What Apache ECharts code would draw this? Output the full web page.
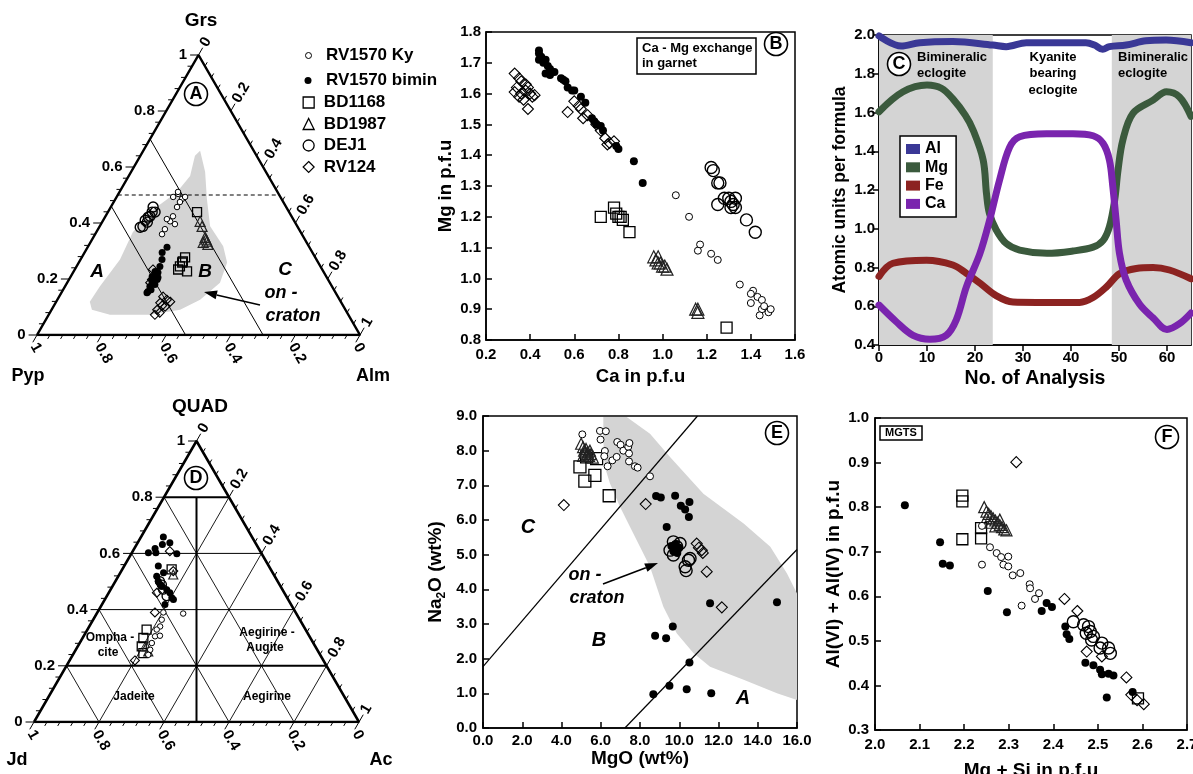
<!DOCTYPE html>
<html><head><meta charset="utf-8">
<script src="https://cdn.jsdelivr.net/npm/echarts@6.0.0/dist/echarts.min.js"></script>
<style>html,body{margin:0;padding:0;background:#fff}#c{width:1193px;height:774px}</style>
</head><body><div id="c"></div>
<script>
// ---------------- DATA ----------------
// Panel A: garnet ternary, [Grs, Alm] fractions (Pyp = 1 - Grs - Alm)
const A_Ky = [[0.504,0.185],[0.486,0.206],[0.475,0.205],[0.457,0.205],[0.493,0.212],[0.493,0.175],[0.511,0.181],[0.424,0.209],[0.406,0.209],[0.396,0.229],[0.378,0.207],[0.360,0.207],[0.414,0.195]];
const A_Bimin = [[0.313,0.246],[0.295,0.240],[0.270,0.252],[0.245,0.258],[0.223,0.263],[0.198,0.273],[0.187,0.266],[0.173,0.263],[0.155,0.266],[0.151,0.265],[0.209,0.252],[0.227,0.252],[0.180,0.275],[0.205,0.272],[0.162,0.272],[0.215,0.262],[0.192,0.260]];
const A_BD1168 = [[0.439,0.276],[0.277,0.320],[0.259,0.320],[0.245,0.320],[0.234,0.320],[0.227,0.351],[0.263,0.320]];
const A_BD1987 = [[0.406,0.302],[0.388,0.317],[0.349,0.346],[0.335,0.359],[0.324,0.367],[0.331,0.349],[0.342,0.352]];
const A_DEJ1 = [[0.457,0.131],[0.439,0.137],[0.421,0.134],[0.403,0.140],[0.388,0.134],[0.385,0.127],[0.424,0.138],[0.439,0.146],[0.410,0.130]];
const A_RV124 = [[0.234,0.242],[0.198,0.257],[0.187,0.257],[0.137,0.322],[0.126,0.339],[0.115,0.324],[0.090,0.327],[0.072,0.329],[0.101,0.346],[0.119,0.353],[0.105,0.335],[0.080,0.340]];
const A_onCraton = [[0.658,0.176],[0.583,0.229],[0.486,0.283],[0.388,0.342],[0.317,0.418],[0.259,0.459],[0.187,0.473],[0.126,0.442],[0.090,0.398],[0.072,0.314],[0.072,0.190],[0.090,0.125],[0.119,0.104],[0.173,0.108],[0.270,0.122],[0.367,0.113],[0.439,0.130],[0.511,0.178],[0.568,0.190],[0.640,0.169]];
const A_PYP_BOUNDS = [0.30, 0.54];   // Pyp = const boundaries (A/B, B/C)
const A_GRS_DASHED = 0.5;

// Panel B: [Ca, Mg] p.f.u
const B_Ky = [[1.06,1.27],[1.12,1.20],[1.17,1.11],[1.16,1.09],[1.22,1.08],[1.25,1.06],[1.35,0.98],[1.41,0.96],[1.40,0.95],[1.40,0.92],[1.43,0.94],[1.45,0.93],[1.45,0.90],[1.44,0.88],[1.48,0.89],[1.49,0.90],[1.46,0.91]];
const B_Bimin = [[0.44,1.74],[0.44,1.73],[0.45,1.72],[0.44,1.71],[0.46,1.70],[0.47,1.71],[0.48,1.69],[0.49,1.68],[0.47,1.665],[0.49,1.66],[0.51,1.67],[0.54,1.65],[0.55,1.645],[0.56,1.64],[0.57,1.62],[0.59,1.61],[0.60,1.61],[0.63,1.59],[0.65,1.57],[0.68,1.52],[0.69,1.51],[0.70,1.50],[0.72,1.495],[0.73,1.48],[0.79,1.43],[0.80,1.42],[0.87,1.38],[0.91,1.31]];
const B_BD1168 = [[0.72,1.20],[0.78,1.23],[0.79,1.21],[0.80,1.20],[0.81,1.20],[0.82,1.19],[0.85,1.15],[1.29,0.84]];
const B_BD1987 = [[0.96,1.07],[0.97,1.06],[0.98,1.07],[0.99,1.05],[1.00,1.04],[1.01,1.04],[1.02,1.03],[0.98,1.05],[1.15,0.90],[1.16,0.90],[1.16,0.89]];
const B_DEJ1 = [[1.22,1.36],[1.23,1.35],[1.25,1.31],[1.26,1.31],[1.25,1.24],[1.28,1.26],[1.30,1.26],[1.31,1.25],[1.32,1.24],[1.33,1.23],[1.31,1.23],[1.38,1.19],[1.42,1.15],[1.33,1.26]];
const B_RV124 = [[0.33,1.665],[0.35,1.65],[0.36,1.64],[0.34,1.62],[0.33,1.605],[0.36,1.60],[0.38,1.61],[0.39,1.62],[0.40,1.60],[0.42,1.595],[0.37,1.58],[0.35,1.59],[0.39,1.55],[0.41,1.59],[0.38,1.63],[0.60,1.575],[0.57,1.54],[0.62,1.56],[0.63,1.55],[0.64,1.52],[0.66,1.53],[0.70,1.50],[0.74,1.455],[0.76,1.44],[0.78,1.445],[0.75,1.435],[0.72,1.48]];

// Panel C: [No. of analysis, a.p.f.u]
const C_Al = [[0,1.995],[4.6,1.943],[8.5,1.96],[15.4,1.966],[23.7,1.948],[26.5,1.94],[30.7,1.96],[36.2,1.96],[43.1,1.96],[44.9,1.948],[46.6,1.926],[48,1.94],[51.5,1.948],[55.6,1.97],[59.8,1.974],[65,1.96]];
const C_Mg = [[0,1.604],[5,1.707],[10,1.742],[13,1.725],[15.4,1.67],[18,1.585],[19.6,1.51],[21.7,1.355],[22.4,1.18],[23,1.08],[24.4,0.995],[26.5,0.924],[29.3,0.89],[35,0.873],[40.4,0.885],[44.6,0.905],[46.7,0.94],[48,1.01],[49.1,1.148],[49.8,1.303],[50.8,1.458],[52.9,1.596],[57.1,1.664],[59.9,1.707],[62.6,1.68],[65,1.58]];
const C_Fe = [[0,0.754],[2.9,0.822],[9.9,0.838],[15.4,0.813],[18.2,0.77],[21,0.72],[24.4,0.655],[27.9,0.622],[32.8,0.62],[41.8,0.62],[44.6,0.645],[47.4,0.70],[50.1,0.768],[53.6,0.795],[57.1,0.80],[60.5,0.787],[65,0.742]];
const C_Ca = [[0,0.606],[3.6,0.52],[7.1,0.45],[10.6,0.43],[14,0.45],[16.1,0.53],[18.2,0.70],[21,0.87],[23,1.04],[25.1,1.25],[27.2,1.42],[29.3,1.475],[34.9,1.49],[40.4,1.49],[44.6,1.48],[46.7,1.44],[48,1.355],[48.7,1.22],[49.4,1.045],[50.1,0.873],[51.5,0.735],[54.3,0.61],[57.1,0.54],[60,0.48],[62.6,0.51],[65,0.565]];
const C_BANDS = [[0,23.7],[48.5,65]];
const C_X_TICKS = [0,10,20,30,40,50,60];

// Panel D: clinopyroxene ternary, [QUAD, Ac] fractions (Jd = 1 - QUAD - Ac)
const D_Ky = [[0.386,0.266],[0.390,0.203],[0.364,0.211],[0.340,0.218],[0.329,0.213],[0.305,0.220],[0.281,0.222],[0.257,0.229],[0.239,0.232],[0.307,0.234]];
const D_Bimin = [[0.658,0.069],[0.632,0.079],[0.617,0.064],[0.602,0.051],[0.602,0.074],[0.599,0.140],[0.638,0.099],[0.555,0.105],[0.531,0.133],[0.519,0.118],[0.501,0.132],[0.489,0.144],[0.471,0.173],[0.460,0.188],[0.442,0.203],[0.436,0.211],[0.418,0.194],[0.483,0.152]];
const D_BD1168 = [[0.329,0.182],[0.299,0.187],[0.269,0.197],[0.245,0.214],[0.543,0.152]];
const D_BD1987 = [[0.269,0.212],[0.251,0.226],[0.525,0.166]];
const D_DEJ1 = [[0.501,0.137],[0.489,0.149],[0.471,0.162],[0.448,0.184]];
const D_RV124 = [[0.608,0.114],[0.390,0.177],[0.219,0.201],[0.460,0.148],[0.537,0.160]];
const D_QUAD_LEVELS = [0.2,0.4,0.6,0.8];
const D_QUAD_BOLD = [0.2,0.8];
const D_DIAG_LEVELS = [0.2,0.4,0.6,0.8];

// Panel E: [MgO wt%, Na2O wt%]
const E_Ky = [[5.06,8.47],[5.96,8.57],[6.26,8.56],[5.99,8.32],[6.21,7.99],[6.18,7.84],[6.35,7.55],[6.59,7.72],[6.81,7.82],[6.84,8.25],[7.01,8.17],[7.15,8.0],[7.40,8.11],[7.46,8.22],[7.44,7.92],[7.44,7.69],[7.74,7.55],[7.88,7.51],[8.51,7.26]];
const E_Bimin = [[8.82,6.69],[9.06,6.65],[9.79,6.70],[10.08,6.41],[10.30,6.30],[10.52,6.52],[10.49,6.09],[9.36,5.80],[11.57,3.60],[14.98,3.63],[9.67,2.93],[8.77,2.66],[9.33,2.59],[10.52,1.89],[9.50,1.22],[8.68,0.97],[10.38,1.12],[11.63,1.00],[9.6,5.25],[9.8,5.3],[10.0,5.2],[9.7,5.1],[9.9,5.05]];
const E_BD1168 = [[4.94,7.53],[5.19,7.12],[5.70,7.29],[6.43,6.70],[5.79,7.77],[5.28,7.82]];
const E_BD1987 = [[5.0,8.2],[5.1,8.1],[5.15,8.0],[5.2,7.95],[5.3,7.9],[5.4,7.85],[5.25,8.05],[5.35,7.95],[5.5,7.9],[5.6,7.8],[5.1,7.85],[5.45,8.0]];
const E_DEJ1 = [[9.70,5.37],[9.87,5.23],[9.53,5.13],[9.70,4.99],[10.04,5.32],[10.47,4.84],[10.30,4.65],[10.35,4.54],[10.55,4.89]];
const E_RV124 = [[4.12,6.43],[8.29,6.46],[10.89,5.32],[11.15,5.13],[11.40,4.51],[12.17,3.48],[11.0,5.2],[11.2,5.05]];
const E_onCraton = [[6.13,8.97],[7.32,8.97],[8.51,8.49],[9.53,7.82],[11.23,6.76],[13.28,5.90],[14.64,5.23],[15.49,4.46],[16,3.88],[16,0.81],[14.98,1.0],[13.28,1.39],[11.57,1.77],[10.72,2.16],[9.87,2.73],[9.19,3.5],[8.51,4.65],[7.66,5.61],[6.98,6.38],[6.47,7.05],[6.21,7.53],[6.13,8.3]];
const E_lineBC = [[0,1.77],[10.93,9.0]];
const E_lineAB = [[7.23,0],[16,5.15]];

// Panel F: [Mg + Si, Al(VI)+Al(IV)] p.f.u
const F_Ky = [[2.24,0.758],[2.24,0.671],[2.258,0.71],[2.273,0.697],[2.283,0.688],[2.288,0.671],[2.299,0.689],[2.299,0.667],[2.309,0.647],[2.326,0.652],[2.329,0.579],[2.347,0.627],[2.348,0.618],[2.359,0.594],[2.368,0.607]];
const F_Bimin = [[2.067,0.804],[2.146,0.721],[2.152,0.673],[2.168,0.669],[2.253,0.612],[2.296,0.564],[2.374,0.567],[2.385,0.585],[2.397,0.576],[2.427,0.532],[2.43,0.515],[2.436,0.504],[2.472,0.451],[2.49,0.445],[2.505,0.435],[2.509,0.425],[2.524,0.426],[2.535,0.422],[2.52,0.373],[2.578,0.385]];
const F_BD1168 = [[2.196,0.826],[2.196,0.813],[2.196,0.728],[2.238,0.753],[2.238,0.73],[2.59,0.371]];
const F_BD1987 = [[2.245,0.80],[2.25,0.79],[2.255,0.785],[2.26,0.78],[2.265,0.775],[2.27,0.77],[2.275,0.765],[2.28,0.76],[2.285,0.755],[2.29,0.75],[2.295,0.748],[2.26,0.765],[2.27,0.757],[2.25,0.775],[2.28,0.772]];
const F_DEJ1 = [[2.445,0.543],[2.468,0.536],[2.479,0.532],[2.483,0.521],[2.49,0.51],[2.486,0.502],[2.509,0.495],[2.524,0.484],[2.528,0.472],[2.505,0.484],[2.474,0.517]];
const F_RV124 = [[2.317,0.901],[2.425,0.594],[2.454,0.567],[2.475,0.476],[2.509,0.465],[2.564,0.418],[2.575,0.379],[2.588,0.367],[2.603,0.358]];

const TERN_TICK_LABELS = ['0','0.2','0.4','0.6','0.8','1'];
const NAMES = {Ky:'RV1570 Ky', Bimin:'RV1570 bimin', BD1168:'BD1168', BD1987:'BD1987', DEJ1:'DEJ1', RV124:'RV124'};

// ---------------- HELPERS ----------------
const FF = '"Liberation Sans", Arial, Helvetica, sans-serif';
const H = Math.sqrt(3) / 2;
const tp = (top, right) => [right + top / 2, top * H]; // ternary -> cartesian data units
const CLEAR = 'rgba(0,0,0,0)';
const STY = {
  Ky:{symbol:'circle', color:'#fff', border:'#000', bw:1},
  Bimin:{symbol:'circle', color:'#000', border:'#000', bw:0},
  BD1168:{symbol:'rect', color:CLEAR, border:'#000', bw:1.3},
  BD1987:{symbol:'triangle', color:CLEAR, border:'#222', bw:1.2},
  DEJ1:{symbol:'circle', color:CLEAR, border:'#000', bw:1.4},
  RV124:{symbol:'diamond', color:CLEAR, border:'#000', bw:1.1}
};
function scat(key, data, gi, size) {
  const s = STY[key];
  return {type:'scatter', name:NAMES[key], xAxisIndex:gi, yAxisIndex:gi, data, symbol:s.symbol, symbolSize:size,
    itemStyle:{color:s.color, borderColor:s.border, borderWidth:s.bw, opacity:1}, z:5, silent:true};
}
function addGroups(series, gi, sets, sizes) {
  ['RV124','BD1168','BD1987','DEJ1','Ky','Bimin'].forEach(k => series.push(scat(k, sets[k], gi, sizes[k])));
}
function lineS(gi, data, width, type) {
  return {type:'line', xAxisIndex:gi, yAxisIndex:gi, data, symbol:'none', silent:true, z:3,
    lineStyle:{color:'#000', width, type:type||'solid'}, itemStyle:{color:'#000'}};
}
function polyS(gi, pts, color) {
  return {type:'custom', xAxisIndex:gi, yAxisIndex:gi, data:[pts[0]], silent:true, z:1, clip:true,
    renderItem:(p, api) => ({type:'polygon', shape:{points:pts.map(q => api.coord(q))}, style:{fill:color}})};
}
function ternAxis(gi) {
  const items = [];
  const N = 25;
  for (let i = 0; i <= N; i++) {
    const v = i / N, major = i % 5 === 0;
    const len = major ? 0.026 : 0.014;
    const lab = major ? TERN_TICK_LABELS[i / 5] : null;
    items.push({p:tp(v,0), d:[-1,0], len, lab, side:'L'});
    items.push({p:tp(1-v,v), d:[0.5,H], len, lab, side:'R'});
    items.push({p:tp(0,1-v), d:[-0.5,-H], len, lab, side:'B'});
  }
  return {type:'custom', xAxisIndex:gi, yAxisIndex:gi, data:items.map(it => it.p), silent:true, clip:false, z:4,
    renderItem(params, api) {
      const it = items[params.dataIndex];
      const a = api.coord(it.p), b = api.coord([it.p[0]+it.d[0]*it.len, it.p[1]+it.d[1]*it.len]);
      const ch = [{type:'line', shape:{x1:a[0],y1:a[1],x2:b[0],y2:b[1]}, style:{stroke:'#000', lineWidth:1}}];
      if (it.lab !== null) {
        let t;
        if (it.side === 'L') t = {x:b[0]-3, y:b[1], r:0};
        else if (it.side === 'R') t = {x:b[0]+1, y:b[1]-2, r:Math.PI/3};
        else t = {x:b[0]+1, y:b[1]+2, r:-Math.PI/3};
        const al = it.side === 'L' ? 'right' : 'left';
        ch.push({type:'text', x:t.x, y:t.y, rotation:t.r,
          style:{text:it.lab, fill:'#000', font:'bold 15px ' + FF, align:al, verticalAlign:'middle', textAlign:al, textVerticalAlign:'middle'}});
      }
      return {type:'group', children:ch};
    }};
}
function cartAxis(gi, o, isY) {
  const ax = {
    gridIndex:gi, type:'value', min:o.min, max:o.max, interval:o.interval,
    name:o.name, nameLocation:'middle', nameGap:o.nameGap, nameRotate:isY ? 90 : 0,
    nameTextStyle:{color:'#000', fontSize:o.nameSize || 19, fontWeight:'bold', fontFamily:FF},
    axisLine:{show:true, onZero:false, lineStyle:{color:'#000', width:1.5}},
    axisTick:{show:true, inside:o.inside, length:6, lineStyle:{color:'#000', width:1.5}},
    axisLabel:{show:true, color:'#000', fontSize:15, fontWeight:'bold', fontFamily:FF, margin:o.margin,
      formatter:(v) => v.toFixed(o.dec)},
    splitLine:{show:false}
  };
  if (o.rich) ax.nameTextStyle.rich = o.rich;
  if (o.custom) { ax.axisTick.customValues = o.custom; ax.axisLabel.customValues = o.custom; }
  return ax;
}
function hiddenAxes(gi) {
  return [{gridIndex:gi, type:'value', min:0, max:1, show:false}, {gridIndex:gi, type:'value', min:0, max:H, show:false}];
}

// ---------------- SERIES ----------------
const series = [];
// Panel A
series.push(polyS(0, A_onCraton.map(([g,a]) => tp(g,a)), '#d4d4d4'));
series.push(lineS(0, [tp(0,0), tp(0,1), tp(1,0), tp(0,0)], 2.5));
A_PYP_BOUNDS.forEach(p => series.push(lineS(0, [tp(1-p,0), tp(0,1-p)], 1)));
series.push(lineS(0, [tp(A_GRS_DASHED,0), tp(A_GRS_DASHED,1-A_GRS_DASHED)], 1, [4,3]));
series.push(ternAxis(0));
const tA = arr => arr.map(([g,a]) => tp(g,a));
addGroups(series, 0, {Ky:tA(A_Ky), Bimin:tA(A_Bimin), BD1168:tA(A_BD1168), BD1987:tA(A_BD1987), DEJ1:tA(A_DEJ1), RV124:tA(A_RV124)},
  {Ky:5.5, Bimin:7, BD1168:9, BD1987:10, DEJ1:10, RV124:9});
// Panel B
addGroups(series, 1, {Ky:B_Ky, Bimin:B_Bimin, BD1168:B_BD1168, BD1987:B_BD1987, DEJ1:B_DEJ1, RV124:B_RV124},
  {Ky:7, Bimin:8, BD1168:11, BD1987:12, DEJ1:12, RV124:11});
// Panel C
const C_COL = {Al:'#3a3896', Mg:'#3b5a3d', Fe:'#8c2321', Ca:'#7a24ae'};
[['Al',C_Al],['Mg',C_Mg],['Fe',C_Fe],['Ca',C_Ca]].forEach(([n,d], i) => {
  const s = {type:'line', name:n, xAxisIndex:2, yAxisIndex:2, data:d, smooth:0.35, symbol:'none', silent:true, z:3,
    lineStyle:{color:C_COL[n], width:7, cap:'round', join:'round'}, itemStyle:{color:C_COL[n]}, color:C_COL[n]};
  if (i === 0) s.markArea = {silent:true, itemStyle:{color:'#d4d4d4'}, data:C_BANDS.map(b => [{xAxis:b[0]},{xAxis:b[1]}])};
  series.push(s);
});
// Panel D
series.push(lineS(3, [tp(0,0), tp(0,1), tp(1,0), tp(0,0)], 2.5));
D_QUAD_LEVELS.forEach(q => series.push(lineS(3, [tp(q,0), tp(q,1-q)], D_QUAD_BOLD.includes(q) ? 2 : 1)));
D_DIAG_LEVELS.forEach(k => {
  series.push(lineS(3, [tp(1-k,0), tp(0,1-k)], 0.9));   // Jd = k
  series.push(lineS(3, [tp(1-k,k), tp(0,k)], 0.9));     // Ac = k
});
series.push(lineS(3, [tp(0.8,0.1), tp(0,0.5)], 2));      // Jd = Ac below QUAD 0.8
series.push(ternAxis(3));
const tD = arr => arr.map(([q,a]) => tp(q,a));
addGroups(series, 3, {Ky:tD(D_Ky), Bimin:tD(D_Bimin), BD1168:tD(D_BD1168), BD1987:tD(D_BD1987), DEJ1:tD(D_DEJ1), RV124:tD(D_RV124)},
  {Ky:5.5, Bimin:7, BD1168:9, BD1987:9, DEJ1:9, RV124:9});
// Panel E
series.push(polyS(4, E_onCraton, '#d4d4d4'));
series.push(lineS(4, E_lineBC, 1.2));
series.push(lineS(4, E_lineAB, 1.2));
addGroups(series, 4, {Ky:E_Ky, Bimin:E_Bimin, BD1168:E_BD1168, BD1987:E_BD1987, DEJ1:E_DEJ1, RV124:E_RV124},
  {Ky:7, Bimin:8, BD1168:12, BD1987:11, DEJ1:12, RV124:11});
// Panel F
addGroups(series, 5, {Ky:F_Ky, Bimin:F_Bimin, BD1168:F_BD1168, BD1987:F_BD1987, DEJ1:F_DEJ1, RV124:F_RV124},
  {Ky:7, Bimin:8, BD1168:11, BD1987:11, DEJ1:12, RV124:11});

// ---------------- AXES / GRIDS ----------------
const boxed = {show:true, borderColor:'#000', borderWidth:1.5, backgroundColor:'transparent', outerBoundsMode:'none', containLabel:false};
const grid = [
  {left:37, top:55, width:323, height:280, outerBoundsMode:'none'},
  Object.assign({left:486, top:32, width:309, height:308}, boxed),
  Object.assign({left:879, top:35, width:312, height:310}, boxed),
  {left:34, top:441, width:325, height:281, outerBoundsMode:'none'},
  Object.assign({left:483, top:416, width:314, height:312}, boxed),
  Object.assign({left:875, top:418, width:312, height:312}, boxed)
];
const [ax0, ay0] = hiddenAxes(0), [ax3, ay3] = hiddenAxes(3);
const xAxis = [ax0,
  cartAxis(1, {min:0.2, max:1.6, interval:0.2, name:'Ca in p.f.u', nameGap:27, nameSize:18.5, inside:true, margin:7, dec:1}),
  cartAxis(2, {min:0, max:65, interval:10, name:'No. of Analysis', nameGap:24, nameSize:19.5, inside:false, margin:5, dec:0, custom:C_X_TICKS}),
  ax3,
  cartAxis(4, {min:0, max:16, interval:2, name:'MgO (wt%)', nameGap:18, inside:true, margin:5, dec:1}),
  cartAxis(5, {min:2.0, max:2.7, interval:0.1, name:'Mg + Si in p.f.u', nameGap:31, inside:true, margin:7, dec:1})
];
const yAxis = [ay0,
  cartAxis(1, {min:0.8, max:1.8, interval:0.1, name:'Mg in p.f.u', nameGap:31, nameSize:18.5, inside:true, margin:5, dec:1}, true),
  cartAxis(2, {min:0.4, max:2.0, interval:0.2, name:'Atomic units per formula', nameGap:30, nameSize:17.5, inside:false, margin:4, dec:1}, true),
  ay3,
  cartAxis(4, {min:0, max:9, interval:1, name:'{n|Na}{s|2}{n|O (wt%)}', nameGap:35, inside:true, margin:6, dec:1,
    rich:{n:{fontSize:19, fontWeight:'bold', fontFamily:FF, color:'#000', lineHeight:24, verticalAlign:'middle'},
          s:{fontSize:12, fontWeight:'bold', fontFamily:FF, color:'#000', lineHeight:12, verticalAlign:'bottom'}}}, true),
  cartAxis(5, {min:0.3, max:1.0, interval:0.1, name:'Al(VI) + Al(IV) in p.f.u', nameGap:32, inside:true, margin:6, dec:1}, true)
];

// ---------------- ANNOTATIONS ----------------
function txt(x, y, text, size, o) {
  o = o || {};
  const al = o.align || 'center';
  return {type:'text', x, y, z:100, silent:true,
    style:{text, font:(o.italic ? 'italic ' : '') + 'bold ' + size + 'px ' + FF, fill:'#000', align:al, verticalAlign:'middle', textAlign:al, textVerticalAlign:'middle'}};
}
function circ(x, y, letter) {
  return [{type:'circle', z:100, silent:true, shape:{cx:x, cy:y, r:11.5}, style:{fill:'#fff', stroke:'#000', lineWidth:1.6}},
          txt(x, y + 0.5, letter, 18)];
}
function arrow(x1, y1, x2, y2) {
  const L = Math.hypot(x2-x1, y2-y1), ux = (x2-x1)/L, uy = (y2-y1)/L, nx = -uy, ny = ux;
  const bx = x2 - ux*13, by = y2 - uy*13;
  return [{type:'line', z:100, silent:true, shape:{x1, y1, x2:bx, y2:by}, style:{stroke:'#000', lineWidth:1.6}},
          {type:'polygon', z:100, silent:true, shape:{points:[[x2,y2],[bx+nx*4.5,by+ny*4.5],[bx-nx*4.5,by-ny*4.5]]}, style:{fill:'#000'}}];
}
const graphic = [].concat(
  // Panel A
  [txt(201, 21, 'Grs', 19), txt(28, 376, 'Pyp', 18), txt(373, 376, 'Alm', 18),
   txt(97, 272, 'A', 19, {italic:true}), txt(205, 272, 'B', 19, {italic:true}), txt(285, 270, 'C', 19, {italic:true}),
   txt(281, 293, 'on -', 18, {italic:true}), txt(293, 316, 'craton', 18, {italic:true})],
  circ(196, 94, 'A'), arrow(260, 305, 204, 292),
  // Panel B
  circ(776, 44, 'B'),
  // Panel C
  circ(899, 64, 'C'),
  [txt(917, 57, 'Bimineralic', 13, {align:'left'}), txt(917, 73, 'eclogite', 13, {align:'left'}),
   txt(1053, 57, 'Kyanite', 13), txt(1053, 73, 'bearing', 13), txt(1053, 90, 'eclogite', 13),
   txt(1118, 57, 'Bimineralic', 13, {align:'left'}), txt(1118, 73, 'eclogite', 13, {align:'left'})],
  // Panel D
  [txt(200, 407, 'QUAD', 19), txt(17, 760, 'Jd', 18), txt(381, 760, 'Ac', 18),
   txt(110, 638, 'Ompha -', 12), txt(108, 653, 'cite', 12), txt(267, 633, 'Aegirine -', 12), txt(265, 648, 'Augite', 12),
   txt(134, 697, 'Jadeite', 12), txt(267, 697, 'Aegirine', 12)],
  circ(196, 478, 'D'),
  // Panel E
  [txt(528, 527, 'C', 20, {italic:true}), txt(599, 640, 'B', 20, {italic:true}), txt(743, 698, 'A', 20, {italic:true}),
   txt(585, 575, 'on -', 18, {italic:true}), txt(597, 598, 'craton', 18, {italic:true})],
  arrow(603, 584, 658, 563),
  circ(777, 433, 'E'),
  // Panel F
  circ(1167, 437, 'F')
);

const legTxt = {color:'#000', fontSize:17, fontWeight:'bold', fontFamily:FF, lineHeight:16};
const legend = [
  {data:[{name:'RV1570 Ky', icon:'circle', itemStyle:{color:'#fff', borderColor:'#000', borderWidth:1}}],
   left:305, top:47, itemWidth:6, itemHeight:6, padding:0, selectedMode:false, formatter:'  {name}', textStyle:legTxt},
  {data:[{name:'RV1570 bimin', icon:'circle', itemStyle:{color:'#000', borderWidth:0}}],
   left:304.5, top:72, itemWidth:7, itemHeight:7, padding:0, selectedMode:false, formatter:'  {name}', textStyle:legTxt},
  {data:[{name:'BD1168', icon:'rect', itemStyle:{color:CLEAR, borderColor:'#000', borderWidth:1.3}},
         {name:'BD1987', icon:'triangle', itemStyle:{color:CLEAR, borderColor:'#000', borderWidth:1.3}},
         {name:'DEJ1', icon:'circle', itemStyle:{color:CLEAR, borderColor:'#000', borderWidth:1.3}},
         {name:'RV124', icon:'diamond', itemStyle:{color:CLEAR, borderColor:'#000', borderWidth:1.2}}],
   orient:'vertical', left:302.5, top:94, itemWidth:11, itemHeight:11, itemGap:4.5, padding:0, selectedMode:false, formatter:' {name}', textStyle:legTxt},
  {data:['Al','Mg','Fe','Ca'].map(n => ({name:n, icon:'rect', itemStyle:{color:C_COL[n]}})),
   orient:'vertical', left:900, top:136, itemWidth:14, itemHeight:10, itemGap:2.3, padding:[5,8,5,6],
   borderColor:'#000', borderWidth:1.5, backgroundColor:'#fff', selectedMode:false, z:10,
   textStyle:{color:'#000', fontSize:16, fontWeight:'bold', fontFamily:FF, lineHeight:16}}
];

const title = [
  {text:'Ca - Mg exchange\nin garnet', left:637, top:38, padding:[3,4,3,5], borderColor:'#000', borderWidth:1.5,
   textStyle:{color:'#000', fontSize:13, fontWeight:'bold', fontFamily:FF, lineHeight:15}},
  {text:'MGTS', left:880, top:426, padding:[1,5,1,5], borderColor:'#000', borderWidth:1.5,
   textStyle:{color:'#000', fontSize:11, fontWeight:'bold', fontFamily:FF, lineHeight:12}}
];

const chart = echarts.init(document.getElementById('c'), null, {renderer:'canvas', width:1193, height:774});
chart.setOption({animation:false, backgroundColor:'#fff', title, legend, grid, xAxis, yAxis, series, graphic, tooltip:{show:false}});
</script></body></html>
